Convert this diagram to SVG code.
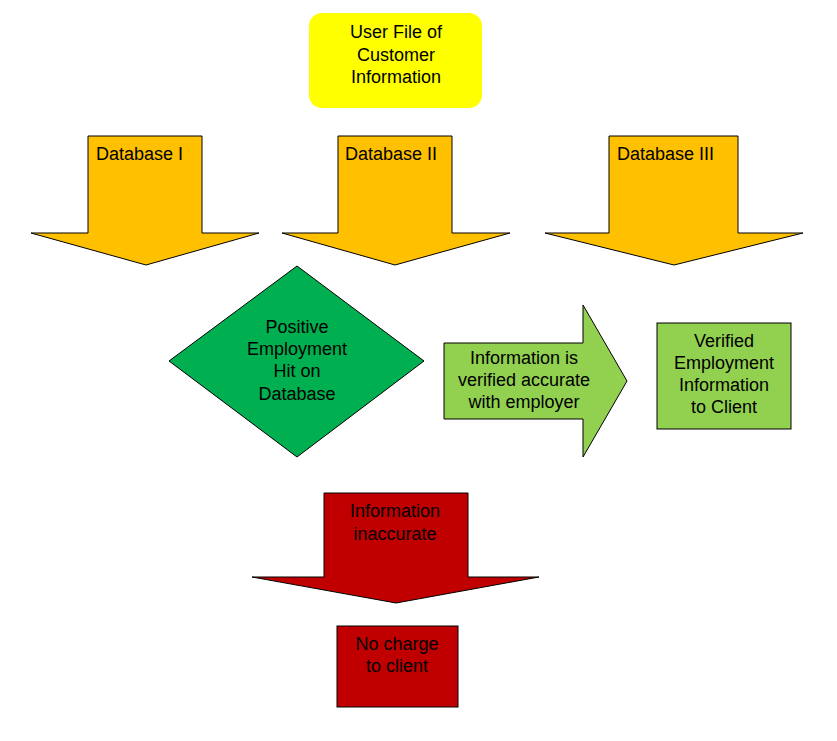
<svg xmlns="http://www.w3.org/2000/svg" width="837" height="741" viewBox="0 0 837 741">
<style>
  .t { font-family: "Liberation Sans", Arial, sans-serif; font-size: 18px; fill: #000; }
  .c { text-anchor: middle; }
  .s { stroke: #000; stroke-width: 1; stroke-linejoin: miter; }
</style>
<rect width="837" height="741" fill="#fff"/>
<g id="user-file">
  <rect x="309" y="13" width="173" height="95" rx="13" ry="13" fill="#FFFF00"/>
  <text class="t c" x="396" y="38">User File of</text>
  <text class="t c" x="396" y="61">Customer</text>
  <text class="t c" x="396" y="83">Information</text>
</g>
<g id="connectors">
  <g id="db1">
    <polygon class="s" fill="#FFC000" points="88,136 202,136 202,233 259,233 146,265 31,233 88,233"/>
    <text class="t" x="96" y="160">Database I</text>
  </g>
  <g id="db2">
    <polygon class="s" fill="#FFC000" points="338,136 452,136 452,233 510,233 395,265 282,233 338,233"/>
    <text class="t" x="345" y="160">Database II</text>
  </g>
  <g id="db3">
    <polygon class="s" fill="#FFC000" points="609,136 738,136 738,233 803,233 674,265 545,233 609,233"/>
    <text class="t" x="617" y="160">Database III</text>
  </g>
  <g id="verified-arrow">
    <polygon class="s" fill="#92D050" points="444,343 583,343 583,305 627,381 583,457 583,419 444,419"/>
    <text class="t c" x="524" y="364">Information is</text>
    <text class="t c" x="524" y="386">verified accurate</text>
    <text class="t c" x="524" y="408">with employer</text>
  </g>
  <g id="inaccurate-arrow">
    <polygon class="s" fill="#C00000" points="324,493 468,493 468,577 539,577 396,603 252,577 324,577"/>
    <text class="t c" x="395" y="517">Information</text>
    <text class="t c" x="395" y="540">inaccurate</text>
  </g>
</g>
<g id="hit">
  <polygon class="s" fill="#00B050" points="297,266 424,361 297,457 169,361"/>
  <text class="t c" x="297" y="333">Positive</text>
  <text class="t c" x="297" y="355">Employment</text>
  <text class="t c" x="297" y="377">Hit on</text>
  <text class="t c" x="297" y="400">Database</text>
</g>
<g id="verified-box">
  <rect class="s" x="657" y="323" width="134" height="106" fill="#92D050"/>
  <text class="t c" x="724" y="347">Verified</text>
  <text class="t c" x="724" y="369">Employment</text>
  <text class="t c" x="724" y="391">Information</text>
  <text class="t c" x="724" y="413">to Client</text>
</g>
<g id="no-charge">
  <rect class="s" x="337" y="626" width="121" height="81" fill="#C00000"/>
  <text class="t c" x="397" y="650">No charge</text>
  <text class="t c" x="397" y="672">to client</text>
</g>
</svg>
